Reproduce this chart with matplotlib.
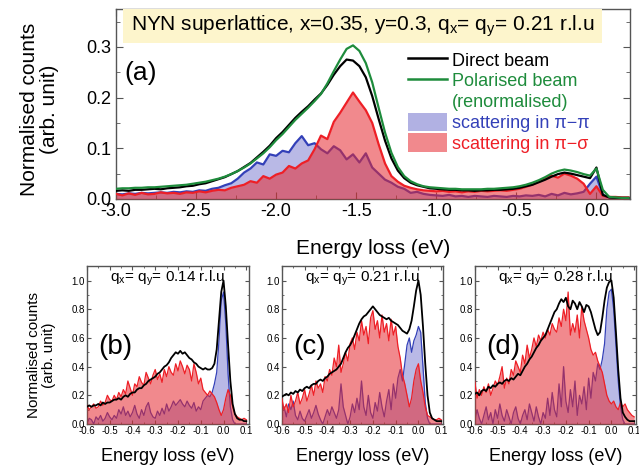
import numpy as np
import matplotlib.pyplot as plt
from matplotlib.patches import Rectangle, Patch
from matplotlib.lines import Line2D
from matplotlib.ticker import MultipleLocator

plt.rcParams['font.family'] = ['Liberation Sans', 'DejaVu Sans']
plt.rcParams['mathtext.fontset'] = 'custom'
plt.rcParams['mathtext.rm'] = 'Liberation Sans'
plt.rcParams['mathtext.it'] = 'Liberation Sans:italic'

# ---- panel (a): -3.0 .. 0.2 eV, 0.04 eV step
e_top = np.linspace(-3.0, 0.2, 81)
direct = [0.016, 0.017, 0.016, 0.018, 0.018, 0.019, 0.020, 0.019, 0.021, 0.022,
          0.023, 0.025, 0.026, 0.029, 0.031, 0.035, 0.039, 0.043, 0.049, 0.055,
          0.063, 0.071, 0.082, 0.093, 0.105, 0.120, 0.132, 0.146, 0.160, 0.172,
          0.183, 0.196, 0.208, 0.225, 0.245, 0.262, 0.275, 0.273, 0.262, 0.240,
          0.203, 0.158, 0.115, 0.080, 0.056, 0.041, 0.032, 0.027, 0.024, 0.021,
          0.020, 0.019, 0.018, 0.018, 0.017, 0.017, 0.016, 0.017, 0.017, 0.018,
          0.018, 0.019, 0.020, 0.022, 0.025, 0.028, 0.033, 0.038, 0.044, 0.049,
          0.052, 0.050, 0.047, 0.044, 0.041, 0.062, 0.008, 0.003, 0.002, 0.002,
          0.002]
polarised = [0.020, 0.021, 0.021, 0.022, 0.022, 0.023, 0.023, 0.024, 0.025, 0.026,
             0.027, 0.028, 0.030, 0.032, 0.034, 0.037, 0.040, 0.044, 0.049, 0.055,
             0.062, 0.070, 0.080, 0.090, 0.102, 0.116, 0.128, 0.142, 0.156, 0.168,
             0.180, 0.193, 0.207, 0.228, 0.252, 0.275, 0.296, 0.303, 0.292, 0.268,
             0.230, 0.180, 0.131, 0.091, 0.063, 0.045, 0.035, 0.029, 0.025, 0.023,
             0.022, 0.021, 0.020, 0.020, 0.019, 0.019, 0.019, 0.019, 0.020, 0.020,
             0.021, 0.022, 0.023, 0.025, 0.028, 0.032, 0.037, 0.043, 0.050, 0.055,
             0.058, 0.056, 0.053, 0.049, 0.046, 0.060, 0.018, 0.004, 0.003, 0.002,
             0.002]
pipi_top = [0.010, 0.009, 0.011, 0.010, 0.012, 0.011, 0.012, 0.013, 0.012, 0.014,
            0.013, 0.015, 0.014, 0.017, 0.016, 0.020, 0.022, 0.027, 0.031, 0.040,
            0.052, 0.060, 0.072, 0.068, 0.088, 0.085, 0.095, 0.092, 0.110, 0.124,
            0.106, 0.110, 0.098, 0.090, 0.104, 0.096, 0.078, 0.088, 0.072, 0.090,
            0.062, 0.050, 0.038, 0.032, 0.024, 0.020, 0.012, 0.014, 0.010, 0.008,
            0.007, 0.006, 0.008, 0.005, 0.006, 0.004, 0.006, 0.005, 0.004, 0.006,
            0.005, 0.004, 0.006, 0.005, 0.007, 0.006, 0.008, 0.005, 0.010, 0.007,
            0.012, 0.009, 0.011, 0.014, 0.030, 0.044, 0.008, 0.003, 0.002, 0.002,
            0.002]
pisig_top = [0.010, 0.007, 0.011, 0.008, 0.012, 0.009, 0.010, 0.013, 0.011, 0.012,
             0.010, 0.013, 0.012, 0.015, 0.013, 0.016, 0.018, 0.017, 0.022, 0.025,
             0.028, 0.035, 0.032, 0.045, 0.040, 0.048, 0.052, 0.065, 0.060, 0.070,
             0.076, 0.098, 0.125, 0.118, 0.152, 0.170, 0.190, 0.210, 0.192, 0.175,
             0.150, 0.108, 0.070, 0.045, 0.034, 0.026, 0.022, 0.019, 0.017, 0.016,
             0.015, 0.016, 0.014, 0.015, 0.013, 0.015, 0.014, 0.016, 0.015, 0.016,
             0.017, 0.016, 0.018, 0.020, 0.024, 0.028, 0.034, 0.040, 0.046, 0.042,
             0.050, 0.046, 0.040, 0.030, 0.010, 0.025, 0.006, 0.004, 0.004, 0.003,
             0.003]

# ---- panels (b)-(d): -0.6 .. 0.1 eV, 0.01 eV step
e_bot = np.linspace(-0.6, 0.1, 71)
q_labels = ['0.14', '0.21', '0.28']
panel_tags = ['(b)', '(c)', '(d)']
direct_b = [0.12, 0.13, 0.12, 0.13, 0.13, 0.14, 0.13, 0.15, 0.14, 0.15,
            0.15, 0.16, 0.17, 0.17, 0.18, 0.17, 0.19, 0.20, 0.19, 0.21,
            0.22, 0.22, 0.24, 0.25, 0.25, 0.27, 0.28, 0.30, 0.31, 0.32,
            0.33, 0.35, 0.36, 0.38, 0.40, 0.41, 0.43, 0.46, 0.48, 0.50,
            0.49, 0.51, 0.49, 0.50, 0.48, 0.46, 0.45, 0.43, 0.42, 0.40,
            0.39, 0.38, 0.39, 0.38, 0.38, 0.39, 0.42, 0.52, 0.72, 0.92,
            1.00, 0.82, 0.55, 0.30, 0.14, 0.07, 0.04, 0.03, 0.03, 0.02, 0.02]
pisig_b = [0.13, 0.10, 0.12, 0.14, 0.11, 0.12, 0.16, 0.13, 0.15, 0.20,
           0.17, 0.16, 0.20, 0.17, 0.22, 0.19, 0.24, 0.21, 0.30, 0.25,
           0.20, 0.28, 0.26, 0.33, 0.29, 0.27, 0.36, 0.32, 0.28, 0.34,
           0.38, 0.31, 0.35, 0.29, 0.38, 0.33, 0.40, 0.36, 0.34, 0.42,
           0.37, 0.44, 0.40, 0.35, 0.41, 0.38, 0.30, 0.42, 0.36, 0.28,
           0.32, 0.24, 0.22, 0.20, 0.23, 0.21, 0.19, 0.15, 0.10, 0.06,
           0.10, 0.18, 0.24, 0.20, 0.12, 0.07, 0.05, 0.04, 0.03, 0.04, 0.03]
pipi_b = [0.00, 0.04, 0.03, 0.00, 0.05, 0.03, 0.06, 0.02, 0.04, 0.08,
          0.05, 0.03, 0.06, 0.04, 0.10, 0.07, 0.12, 0.06, 0.09, 0.05,
          0.08, 0.13, 0.07, 0.04, 0.10, 0.06, 0.12, 0.15, 0.08, 0.05,
          0.04, 0.09, 0.06, 0.11, 0.07, 0.14, 0.09, 0.12, 0.16, 0.13,
          0.15, 0.17, 0.14, 0.12, 0.16, 0.13, 0.11, 0.15, 0.09, 0.12,
          0.10, 0.16, 0.18, 0.20, 0.19, 0.22, 0.28, 0.36, 0.58, 0.86,
          0.92, 0.70, 0.35, 0.12, 0.03, 0.00, 0.00, 0.00, 0.00, 0.00, 0.00]
direct_c = [0.19, 0.20, 0.21, 0.20, 0.22, 0.21, 0.23, 0.22, 0.24, 0.23,
            0.25, 0.26, 0.25, 0.27, 0.28, 0.28, 0.30, 0.31, 0.30, 0.32,
            0.33, 0.35, 0.36, 0.37, 0.38, 0.40, 0.42, 0.46, 0.50, 0.53,
            0.55, 0.58, 0.62, 0.66, 0.70, 0.73, 0.75, 0.76, 0.78, 0.80,
            0.82, 0.80, 0.78, 0.76, 0.75, 0.74, 0.73, 0.74, 0.72, 0.71,
            0.70, 0.69, 0.67, 0.65, 0.64, 0.63, 0.66, 0.72, 0.82, 0.93,
            1.00, 0.90, 0.68, 0.42, 0.20, 0.08, 0.04, 0.03, 0.02, 0.02, 0.02]
pisig_c = [0.18, 0.10, 0.14, 0.08, 0.20, 0.12, 0.16, 0.22, 0.14, 0.18,
           0.24, 0.16, 0.21, 0.27, 0.20, 0.30, 0.25, 0.28, 0.22, 0.33,
           0.30, 0.38, 0.34, 0.46, 0.40, 0.55, 0.36, 0.42, 0.50, 0.44,
           0.56, 0.60, 0.52, 0.64, 0.58, 0.72, 0.62, 0.68, 0.56, 0.74,
           0.79, 0.66, 0.72, 0.60, 0.76, 0.64, 0.70, 0.58, 0.73, 0.62,
           0.68, 0.54, 0.46, 0.34, 0.28, 0.20, 0.12, 0.18, 0.30, 0.38,
           0.42, 0.30, 0.22, 0.12, 0.06, 0.05, 0.04, 0.03, 0.03, 0.04, 0.03]
pipi_c = [0.08, 0.12, 0.05, 0.14, 0.10, 0.16, 0.06, 0.03, 0.09, 0.04,
          0.02, 0.06, 0.10, 0.04, 0.08, 0.13, 0.07, 0.03, 0.00, 0.05,
          0.10, 0.06, 0.12, 0.08, 0.04, 0.10, 0.28, 0.12, 0.06, 0.00,
          0.05, 0.14, 0.08, 0.18, 0.10, 0.30, 0.12, 0.06, 0.20, 0.08,
          0.04, 0.15, 0.09, 0.22, 0.12, 0.05, 0.16, 0.24, 0.10, 0.28,
          0.18, 0.32, 0.38, 0.30, 0.42, 0.55, 0.60, 0.50, 0.58, 0.62,
          0.68, 0.64, 0.40, 0.15, 0.04, 0.00, 0.00, 0.00, 0.00, 0.00, 0.00]
direct_d = [0.21, 0.22, 0.20, 0.23, 0.24, 0.23, 0.26, 0.25, 0.27, 0.26,
            0.28, 0.29, 0.28, 0.30, 0.31, 0.30, 0.32, 0.31, 0.33, 0.35,
            0.34, 0.37, 0.40, 0.42, 0.45, 0.47, 0.50, 0.53, 0.55, 0.58,
            0.60, 0.62, 0.66, 0.70, 0.74, 0.78, 0.80, 0.84, 0.87, 0.85,
            0.88, 0.82, 0.80, 0.86, 0.84, 0.80, 0.85, 0.82, 0.78, 0.83,
            0.82, 0.78, 0.72, 0.66, 0.62, 0.64, 0.74, 0.86, 0.95, 0.99,
            1.00, 0.88, 0.64, 0.38, 0.18, 0.08, 0.05, 0.03, 0.02, 0.02, 0.02]
pisig_d = [0.30, 0.18, 0.24, 0.20, 0.26, 0.22, 0.28, 0.20, 0.25, 0.30,
           0.27, 0.33, 0.40, 0.25, 0.32, 0.28, 0.38, 0.34, 0.44, 0.40,
           0.36, 0.48, 0.42, 0.55, 0.46, 0.52, 0.60, 0.54, 0.62, 0.58,
           0.64, 0.60, 0.66, 0.62, 0.70, 0.66, 0.64, 0.74, 0.68, 0.80,
           0.72, 0.92, 0.62, 0.70, 0.64, 0.76, 0.60, 0.82, 0.72, 0.66,
           0.60, 0.52, 0.48, 0.50, 0.44, 0.40, 0.36, 0.28, 0.20, 0.16,
           0.14, 0.16, 0.12, 0.10, 0.15, 0.12, 0.14, 0.10, 0.08, 0.06, 0.05]
pipi_d = [0.02, 0.10, 0.04, 0.00, 0.06, 0.12, 0.03, 0.08, 0.00, 0.10,
          0.04, 0.14, 0.06, 0.02, 0.10, 0.05, 0.00, 0.08, 0.12, 0.04,
          0.00, 0.06, 0.10, 0.03, 0.14, 0.08, 0.02, 0.12, 0.05, 0.00,
          0.08, 0.04, 0.18, 0.06, 0.22, 0.10, 0.05, 0.28, 0.12, 0.40,
          0.16, 0.08, 0.24, 0.12, 0.30, 0.06, 0.20, 0.14, 0.26, 0.10,
          0.32, 0.18, 0.36, 0.30, 0.42, 0.38, 0.45, 0.56, 0.80, 0.92,
          0.94, 0.80, 0.55, 0.30, 0.12, 0.03, 0.00, 0.00, 0.00, 0.00, 0.00]

BLUE_LINE = '#3340b8'
BLUE_FILL = '#6464c8'
RED_LINE = '#ee1f26'
RED_FILL = '#e6282f'
GREEN = '#1e8c3c'
SPINE = '#555555'


def style_axes(ax, size):
    for s in ax.spines.values():
        s.set_color(SPINE)
        s.set_linewidth(1.0)
    ax.tick_params(which='both', direction='in', top=True, right=True,
                   color=SPINE, labelsize=size)
    ax.tick_params(which='major', length=5)
    ax.tick_params(which='minor', length=3)


def draw_spectra(ax, e, pipi, pisig, lw):
    ax.fill_between(e, 0, pipi, color=BLUE_FILL, alpha=0.45, lw=0, zorder=1)
    ax.plot(e, pipi, color=BLUE_LINE, lw=lw, zorder=2)
    ax.fill_between(e, 0, pisig, color=RED_FILL, alpha=0.55, lw=0, zorder=3)
    ax.plot(e, pisig, color=RED_LINE, lw=lw, zorder=4)


fig = plt.figure(figsize=(6.39, 4.67), dpi=100)

# ---------------- panel (a)
ax = fig.add_axes([0.1815, 0.574, 0.8045, 0.407])
draw_spectra(ax, e_top, pipi_top, pisig_top, 1.6)
ax.plot(e_top, direct, color='black', lw=1.6, zorder=5)
ax.plot(e_top, polarised, color=GREEN, lw=1.6, zorder=6)
ax.set_xlim(-3.0, 0.21)
ax.set_ylim(0, 0.375)
ax.xaxis.set_major_locator(MultipleLocator(0.5))
ax.xaxis.set_minor_locator(MultipleLocator(0.25))
ax.yaxis.set_major_locator(MultipleLocator(0.1))
ax.yaxis.set_minor_locator(MultipleLocator(0.05))
ax.xaxis.set_major_formatter(plt.FuncFormatter(lambda v, p: f'{v:.1f}'))
style_axes(ax, 13)
ax.tick_params(axis='x', pad=3)
ax.set_xlabel('Energy loss (eV)', fontsize=15)
ax.xaxis.set_label_coords(0.5, -0.21)
ax.set_ylabel('Normalised counts\n(arb. unit)', fontsize=15, linespacing=1.1)
ax.yaxis.set_label_coords(-0.11, 0.47)

ax.add_patch(Rectangle((0.014, 0.822), 0.931, 0.178, transform=ax.transAxes,
                       facecolor='#fdf5cc', edgecolor='none', zorder=7))
ax.text(0.48, 0.91, r'NYN superlattice, x=0.35, y=0.3, q$_\mathrm{x}$= q$_\mathrm{y}$= 0.21 r.l.u',
        transform=ax.transAxes, ha='center', va='center', fontsize=15, zorder=8)
ax.text(0.017, 0.665, '(a)', transform=ax.transAxes, ha='left', va='center',
        fontsize=19)

handles = [Line2D([], [], color='black', lw=1.8),
           Line2D([], [], color=GREEN, lw=1.8),
           Line2D([], [], color='none'),
           Patch(facecolor=BLUE_FILL, alpha=0.5, edgecolor='none'),
           Patch(facecolor=RED_FILL, alpha=0.55, edgecolor='none')]
labels = ['Direct beam', 'Polarised beam', '(renormalised)',
          'scattering in \u03c0\u2212\u03c0', 'scattering in \u03c0\u2212\u03c3']
leg = ax.legend(handles, labels, loc='upper left', bbox_to_anchor=(0.55, 0.83),
                frameon=False, fontsize=13, handlelength=2.2, handleheight=1.2,
                handletextpad=0.25, labelspacing=0.08, borderpad=0,
                labelcolor=['black', GREEN, GREEN, BLUE_LINE, RED_LINE])

# ---------------- panels (b)-(d)
lefts = [0.136, 0.441, 0.743]
direct_bot = [direct_b, direct_c, direct_d]
pisig_bot = [pisig_b, pisig_c, pisig_d]
pipi_bot = [pipi_b, pipi_c, pipi_d]
for i in range(3):
    bx = fig.add_axes([lefts[i], 0.092, 0.253, 0.338])
    draw_spectra(bx, e_bot, pipi_bot[i], pisig_bot[i], 0.9)
    bx.plot(e_bot, direct_bot[i], color='black', lw=1.3, zorder=5)
    bx.set_xlim(-0.6, 0.11)
    bx.set_ylim(0, 1.1)
    bx.xaxis.set_major_locator(MultipleLocator(0.1))
    bx.xaxis.set_minor_locator(MultipleLocator(0.05))
    bx.yaxis.set_major_locator(MultipleLocator(0.2))
    bx.yaxis.set_minor_locator(MultipleLocator(0.1))
    bx.xaxis.set_major_formatter(plt.FuncFormatter(lambda v, p: f'{v:.1f}'))
    bx.yaxis.set_major_formatter(plt.FuncFormatter(lambda v, p: f'{v:.1f}'))
    style_axes(bx, 7)
    bx.tick_params(which='major', length=3)
    bx.tick_params(which='minor', length=1.5)
    bx.tick_params(pad=1.5)
    bx.set_xlabel('Energy loss (eV)', fontsize=13)
    bx.xaxis.set_label_coords(0.5, -0.15)
    bx.text(0.5, 0.925, r'q$_\mathrm{x}$= q$_\mathrm{y}$= ' + q_labels[i] + ' r.l.u',
            transform=bx.transAxes, ha='center', va='center', fontsize=11)
    bx.text(0.07, 0.49, panel_tags[i], transform=bx.transAxes, ha='left',
            va='center', fontsize=20)

fig.text(0.065, 1 - 355 / 467, 'Normalised counts\n(arb. unit)', rotation=90,
         ha='center', va='center', fontsize=11, linespacing=1.1)

fig.savefig('out.png', dpi=100)
